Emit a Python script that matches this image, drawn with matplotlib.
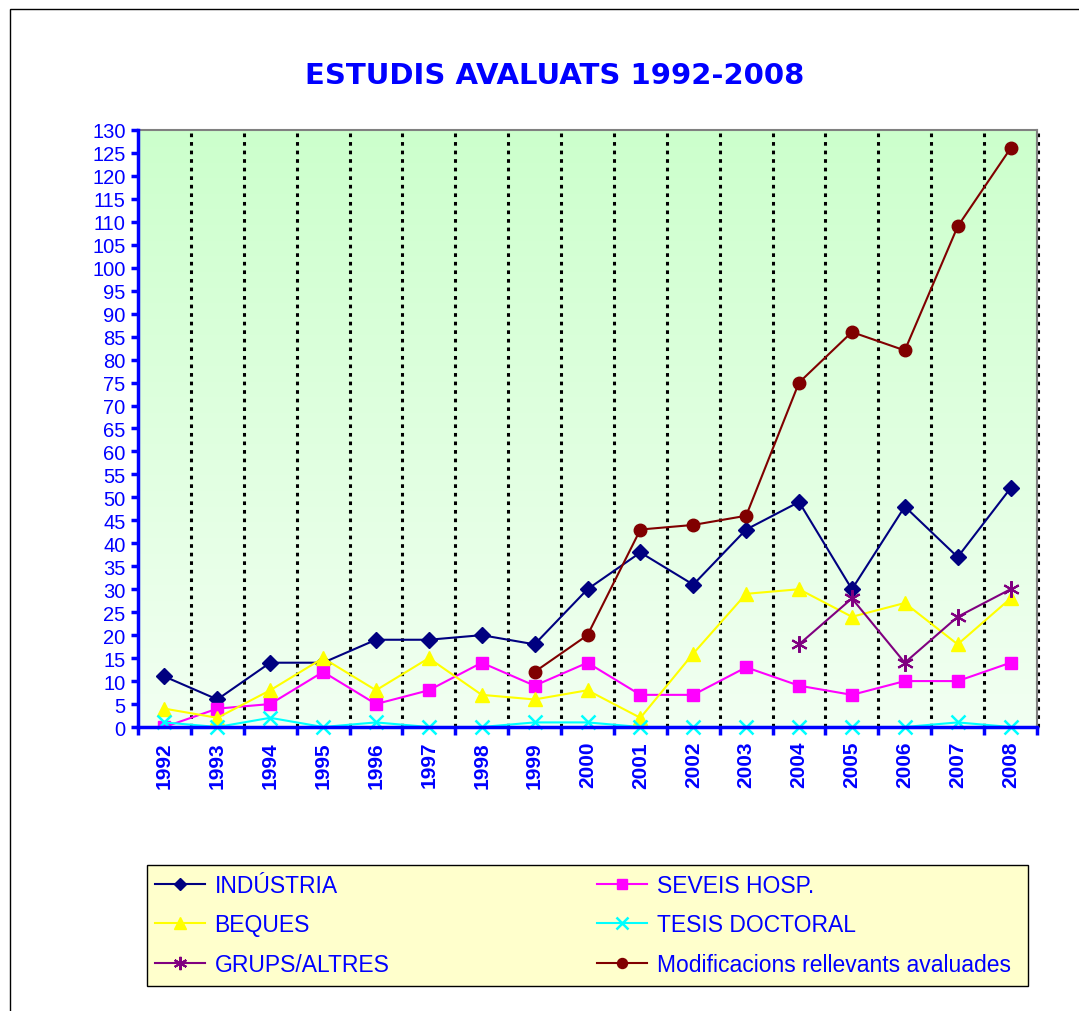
#! /usr/bin/env python3

import numpy as np
import matplotlib
matplotlib.use('Agg')
import matplotlib.pyplot as plt
from matplotlib.patches import Rectangle

plt.rcParams['font.family'] = ['Liberation Sans', 'DejaVu Sans']

# data
years = ['1992', '1993', '1994', '1995', '1996', '1997', '1998', '1999', '2000',
         '2001', '2002', '2003', '2004', '2005', '2006', '2007', '2008']
industria = [11, 6, 14, 14, 19, 19, 20, 18, 30, 38, 31, 43, 49, 30, 48, 37, 52]
seveis_hosp = [0, 4, 5, 12, 5, 8, 14, 9, 14, 7, 7, 13, 9, 7, 10, 10, 14]
beques = [4, 2, 8, 15, 8, 15, 7, 6, 8, 2, 16, 29, 30, 24, 27, 18, 28]
tesis = [1, 0, 2, 0, 1, 0, 0, 1, 1, 0, 0, 0, 0, 0, 0, 1, 0]
grups = [None] * 12 + [18, 28, 14, 24, 30]
modificacions = [None] * 7 + [12, 20, 43, 44, 46, 75, 86, 82, 109, 126]

BLUE = '#0000ff'
W, H = 1079, 1012

fig = plt.figure(figsize=(W / 100, H / 100), dpi=100)
fig.patch.set_facecolor('white')

# outer frame (only top and left edges are inside the picture)
fig.patches.append(Rectangle((10 / W, -0.05), 1.2, 1.05 - 10 / H,
                             transform=fig.transFigure, fill=False,
                             edgecolor='black', linewidth=1.0))

ax = fig.add_axes([138 / W, 284 / H, 899 / W, 597 / H])
n = len(years)
x = np.arange(n)
ax.set_xlim(-0.5, n - 0.5)
ax.set_ylim(0, 130)

# green gradient background
grad = np.linspace(1, 0, 256).reshape(-1, 1)
top = np.array([204, 255, 204]) / 255.0
bot = np.array([242, 255, 242]) / 255.0
img = bot + (top - bot) * grad[..., None]
ax.imshow(img, extent=[-0.5, n - 0.5, 0, 130], aspect='auto', zorder=0)

# dotted category separators
for b in np.arange(0.5, n, 1.0):
    ax.axvline(b, color='black', linestyle=(0, (1.2, 1.6)), linewidth=2.2, zorder=1)
ax.axvline(n - 0.5 + 0.02, color='black', linestyle=(0, (1.2, 1.6)), linewidth=2.2,
           zorder=1, clip_on=False)

def to_arr(v):
    return np.array([np.nan if a is None else a for a in v], dtype=float)

lines = {}
lines['ind'], = ax.plot(x, industria, color='#000080', marker='D', markersize=8,
                        linewidth=1.5, label='INDÚSTRIA', zorder=5)
lines['sev'], = ax.plot(x, seveis_hosp, color='#ff00ff', marker='s', markersize=9,
                        linewidth=1.5, label='SEVEIS HOSP.', zorder=5)
lines['beq'], = ax.plot(x, beques, color='#ffff00', marker='^', markersize=10,
                        linewidth=1.5, label='BEQUES', zorder=5)
lines['tes'], = ax.plot(x, tesis, color='#00ffff', marker='x', markersize=10,
                        markeredgewidth=1.8, linewidth=1.5, label='TESIS DOCTORAL',
                        zorder=5, clip_on=False)
lines['gru'], = ax.plot(x, to_arr(grups), color='#800080', marker=(6, 2, 0),
                        markersize=12, markeredgewidth=1.5, linewidth=1.5,
                        label='GRUPS/ALTRES', zorder=5)
lines['mod'], = ax.plot(x, to_arr(modificacions), color='#800000', marker='o',
                        markersize=9, linewidth=1.5,
                        label='Modificacions rellevants avaluades', zorder=5)

# axes styling
for side in ['left', 'bottom']:
    ax.spines[side].set_color(BLUE)
    ax.spines[side].set_linewidth(2.5)
for side in ['top', 'right']:
    ax.spines[side].set_color('#808080')
    ax.spines[side].set_linewidth(1.5)
ax.spines['left'].set_zorder(6)
ax.spines['bottom'].set_zorder(6)

ax.set_yticks(np.arange(0, 131, 5))
ax.tick_params(axis='y', colors=BLUE, labelcolor=BLUE, labelsize=14.5,
               length=5, width=2.5, direction='out', pad=4)
ax.set_xticks(x)
ax.set_xticklabels(years, rotation=90, fontsize=15, fontweight='bold', color=BLUE)
ax.tick_params(axis='x', which='major', length=0, pad=10)
ax.set_xticks(np.arange(-0.5, n, 1.0), minor=True)
ax.tick_params(axis='x', which='minor', colors=BLUE, length=6, width=2.5)

fig.text(555 / W, 1 - 76 / H, 'ESTUDIS AVALUATS 1992-2008', ha='center',
         va='center', fontsize=21, fontweight='bold', color=BLUE,
         family=['DejaVu Sans'])

# legend box, then the two legend columns inside it
fig.patches.append(Rectangle((147 / W, 1 - 987 / H), 881 / W, 121 / H,
                             transform=fig.transFigure, facecolor='#ffffcc',
                             edgecolor='black', linewidth=1.0, zorder=1))

def column_legend(handles, xpix):
    leg = fig.legend(handles=handles, labels=[h.get_label() for h in handles],
                     loc='upper left', bbox_to_anchor=(xpix / W, 1 - 875 / H),
                     fontsize=16.5, frameon=False, handlelength=2.2,
                     handletextpad=0.4, labelspacing=0.72, borderpad=0.0,
                     borderaxespad=0.0, markerscale=0.8)
    for t in leg.get_texts():
        t.set_color(BLUE)
    leg.set_zorder(2)
    return leg

column_legend([lines['ind'], lines['beq'], lines['gru']], 155)
column_legend([lines['sev'], lines['tes'], lines['mod']], 597)

fig.savefig('out.png', dpi=100)
